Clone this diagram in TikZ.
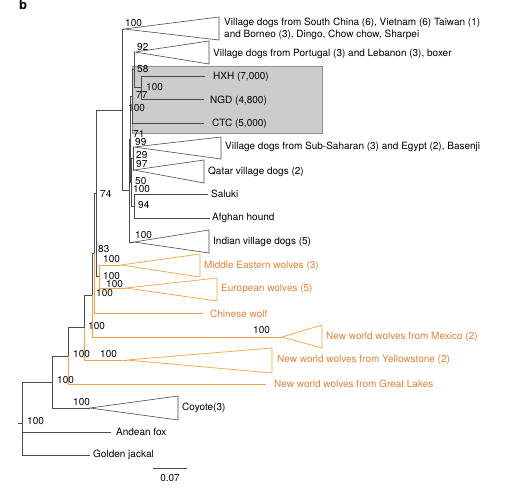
\documentclass[tikz,border=0pt]{standalone}
\usepackage{fontspec}
\setmainfont{TeX Gyre Heros}
\definecolor{treeln}{HTML}{4A4A4A}
\definecolor{wolfln}{HTML}{F0A346}
\definecolor{wolftx}{HTML}{E2823A}
\definecolor{boxfill}{HTML}{CCCCCC}
\definecolor{boxline}{HTML}{8F8F8F}
\begin{document}
\begin{tikzpicture}[x=1pt,y=-1pt,
  br/.style={draw=treeln,line width=0.6pt},
  wb/.style={draw=wolfln,line width=0.7pt},
  bs/.style={anchor=west,inner sep=0pt,font=\fontsize{10}{12}\selectfont},
  lf/.style={anchor=base west,inner sep=0pt,font=\fontsize{10}{12}\selectfont},
  wlf/.style={lf,text=wolftx}]
\useasboundingbox (0,0) rectangle (531,491);
\fill[white] (0,0) rectangle (531,491);
\node[anchor=base west,inner sep=0pt,font=\bfseries\fontsize{13}{13}\selectfont] (panel) at (19,9.5) {b};
\node[draw=boxline,fill=boxfill,line width=0.5pt,minimum width=190pt,minimum height=67pt,inner sep=0pt,anchor=north west] (hl) at (132,66) {};
% internal nodes
\coordinate (Rt) at (18,423);
\coordinate (R) at (22,423);
\coordinate (N1) at (52,382);
\coordinate (N2) at (68,356);
\coordinate (N3) at (84,327.5);
\coordinate (N4) at (92,295);
\coordinate (N5) at (94,253);
\coordinate (ND) at (96,193.5);
\coordinate (N7) at (99,276.5);
\coordinate (D1) at (122,110);
\coordinate (D2) at (129,190.5);
\coordinate (E) at (130.5,139);
\coordinate (C) at (132,96);
\coordinate (P) at (134,69.7);
\coordinate (H) at (141,87.5);
\coordinate (F) at (131.5,182);
\coordinate (G) at (133,158.5);
\coordinate (SA) at (134.5,206);
% clade apexes
\coordinate (SCa) at (124,29);
\coordinate (PTa) at (135,52);
\coordinate (SSa) at (134,147);
\coordinate (QTa) at (134,170);
\coordinate (INa) at (134,242);
\coordinate (MEa) at (121,265);
\coordinate (EUa) at (126,288);
\coordinate (MXa) at (282,337);
\coordinate (YSa) at (127,360);
\coordinate (CYa) at (90,408);
% leaf ends
\coordinate (HXHe) at (205,76);
\coordinate (NGDe) at (204,99);
\coordinate (CTCe) at (204,123);
\coordinate (SALe) at (208,194);
\coordinate (AFGe) at (210,218);
\coordinate (CWe) at (203,313);
\coordinate (GLe) at (266,384);
\coordinate (AFe) at (111,432);
\coordinate (GJe) at (90,455);
% branches
\draw[br] (Rt) -- (R);
\draw[br] (R) |- (N1);
\draw[br] (R) |- (AFe);
\draw[br] (R) |- (GJe);
\draw[br] (N1) |- (N2);
\draw[br] (N1) |- (CYa);
\draw[br] (N2) |- (N3);
\draw[wb] (N2) |- (GLe);
\draw[br] (N3) |- (N4);
\draw[wb] (N3) |- (YSa);
\draw[br] (N4) |- (N5);
\draw[wb] (N4) |- (MXa);
\draw[br] (N5) |- (ND);
\draw[wb] (N5) |- (CWe);
\draw[br] (ND) |- (D1);
\draw[br] (ND) |- (N7);
\draw[wb] (N7) |- (MEa);
\draw[wb] (N7) |- (EUa);
\draw[br] (D1) |- (SCa);
\draw[br] (D1) |- (D2);
\draw[br] (D2) |- (E);
\draw[br] (D2) |- (INa);
\draw[br] (E) |- (C);
\draw[br] (E) |- (F);
\draw[br] (C) |- (P);
\draw[br] (C) |- (CTCe);
\draw[br] (P) |- (PTa);
\draw[br] (P) |- (H);
\draw[br] (H) |- (HXHe);
\draw[br] (H) |- (NGDe);
\draw[br] (F) |- (G);
\draw[br] (F) |- (SA);
\draw[br] (G) |- (SSa);
\draw[br] (G) |- (QTa);
\draw[br] (SA) |- (SALe);
\draw[br] (SA) |- (AFGe);
% collapsed clades
\draw[br] (SCa) -- (219,17) -- (219,40) -- cycle;
\draw[br] (PTa) -- (209,41) -- (209,64) -- cycle;
\draw[br] (SSa) -- (221,137) -- (221,159) -- cycle;
\draw[br] (QTa) -- (204,160) -- (204,183) -- cycle;
\draw[br] (INa) -- (209,230) -- (209,253) -- cycle;
\draw[wb] (MEa) -- (200,254) -- (200,277) -- cycle;
\draw[wb] (EUa) -- (217,278) -- (217,301) -- cycle;
\draw[wb] (MXa) -- (322,325) -- (322,348) -- cycle;
\draw[wb] (YSa) -- (272,348) -- (272,373) -- cycle;
\draw[br] (CYa) -- (178,396) -- (178,420) -- cycle;
% support values
\node[bs] (bSC) at (125,23) {100};
\node[bs] (bPT) at (137,47) {92};
\node[bs] (bP) at (137,69) {58};
\node[bs] (bH) at (146,87) {100};
\node[bs] (bC) at (136,95) {77};
\node[bs] (bD1) at (128,108) {100};
\node[bs] (bE) at (133,134) {71};
\node[bs] (bSS) at (135,142) {99};
\node[bs] (bG) at (136,155) {29};
\node[bs] (bQT) at (136,164) {97};
\node[bs] (bF) at (135,181) {50};
\node[bs] (bD2) at (133,189) {100};
\node[bs] (bSA) at (138,205) {94};
\node[bs] (bIN) at (135,235) {100};
\node[bs] (bND) at (100,194) {74};
\node[bs] (bN5) at (98,249) {83};
\node[bs] (bME) at (103,259) {100};
\node[bs] (bN7) at (103,276) {100};
\node[bs] (bEU) at (106,284) {100};
\node[bs] (bN4) at (96,293) {100};
\node[bs] (bN3) at (88,326) {100};
\node[bs] (bMX) at (253,330) {100};
\node[bs] (bN2) at (73,354) {100};
\node[bs] (bYS) at (100,354) {100};
\node[bs] (bN1) at (57,380) {100};
\node[bs] (bCY) at (73,402) {100};
\node[bs] (bR) at (27,421) {100};
% leaf labels
\node[lf] (tSC1) at (224,25.5) {Village dogs from South China (6), Vietnam (6) Taiwan (1)};
\node[lf] (tSC2) at (224,37.5) {and Borneo (3), Dingo, Chow chow, Sharpei};
\node[lf] (tPT) at (213,56.5) {Village dogs from Portugal (3) and Lebanon (3), boxer};
\node[lf] (tHXH) at (213,79.6) {HXH (7,000)};
\node[lf] (tNGD) at (210,103.6) {NGD (4,800)};
\node[lf] (tCTC) at (212,126.6) {CTC (5,000)};
\node[lf] (tSS) at (225,149.6) {Village dogs from Sub-Saharan (3) and Egypt (2), Basenji};
\node[lf] (tQT) at (208,174.6) {Qatar village dogs (2)};
\node[lf] (tSAL) at (211,197.6) {Saluki};
\node[lf] (tAFG) at (212,220.6) {Afghan hound};
\node[lf] (tIN) at (213,244.6) {Indian village dogs (5)};
\node[wlf] (tME) at (204,268.6) {Middle Eastern wolves (3)};
\node[wlf] (tEU) at (221,291.6) {European wolves (5)};
\node[wlf] (tCW) at (210,317.6) {Chinese wolf};
\node[wlf] (tMX) at (326,339.6) {New world wolves from Mexico (2)};
\node[wlf] (tYS) at (277,362.6) {New world wolves from Yellowstone (2)};
\node[wlf] (tGL) at (274,387.6) {New world wolves from Great Lakes};
\node[lf] (tCY) at (182,410.6) {Coyote(3)};
\node[lf] (tAF) at (116,435.6) {Andean fox};
\node[lf] (tGJ) at (93,457.6) {Golden jackal};
% scale bar
\coordinate (s1) at (153,468);
\coordinate (s2) at (187,468);
\draw[br] (s1) -- (s2);
\node[anchor=base,inner sep=0pt,font=\fontsize{10}{12}\selectfont] (sc) at (170,481) {0.07};
\end{tikzpicture}
\end{document}
